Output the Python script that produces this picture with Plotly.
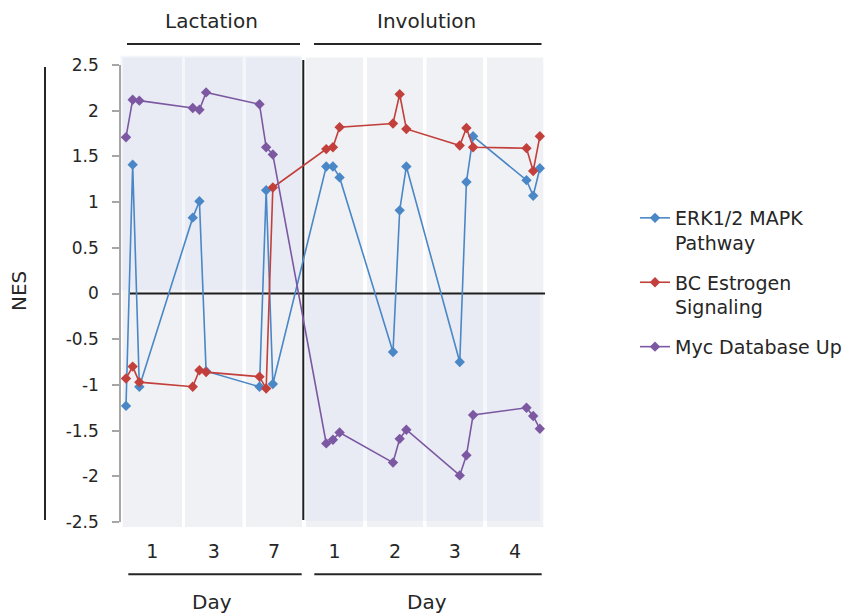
import plotly.graph_objects as go

# ---------------- data ----------------
phases = ["Lactation", "Involution"]
day_labels = ["1", "3", "7", "1", "2", "3", "4"]
replicates = 3

erk = [-1.23, 1.41, -1.02, 0.83, 1.01, -0.85, -1.02, 1.13, -0.99,
       1.39, 1.39, 1.27, -0.64, 0.91, 1.39, -0.75, 1.22, 1.72, 1.24, 1.07, 1.37]
bc = [-0.93, -0.80, -0.97, -1.02, -0.84, -0.86, -0.91, -1.04, 1.16,
      1.58, 1.60, 1.82, 1.86, 2.18, 1.80, 1.62, 1.81, 1.60, 1.59, 1.34, 1.72]
myc = [1.71, 2.12, 2.11, 2.03, 2.01, 2.20, 2.07, 1.60, 1.52,
       -1.64, -1.60, -1.52, -1.85, -1.59, -1.49, -1.99, -1.77, -1.33, -1.25, -1.34, -1.48]

series_names = ["ERK1/2 MAPK<br>Pathway", "BC Estrogen<br>Signaling", "Myc Database Up"]
y_ticks = [2.5, 2, 1.5, 1, 0.5, 0, -0.5, -1, -1.5, -2, -2.5]
y_tick_text = ["2.5", "2", "1.5", "1", "0.5", "0", "-0.5", "-1", "-1.5", "-2", "-2.5"]

# ---------------- geometry / style ----------------
W, H = 866, 616
# plot area in page pixels
PL, PR, PT, PB = 121, 545, 65, 522
L, T = PL, PT
PW, PH = PR - PL, PB - PT
R, B = W - L - PW, H - T - PH
px_per_unit = 6.675
x_first_px = 126.0

def xd(px):  # pixel -> x data
    return (px - x_first_px) / px_per_unit

def xp(px):  # pixel -> paper x
    return (px - PL) / PW

def yp(py):  # pixel -> paper y
    return (PB - py) / PH

x_pos = [10 * g + r for g in range(len(day_labels)) for r in range(replicates)]

col_px = [(122.7, 182.0), (185.0, 242.5), (246.0, 302.0), (306.0, 363.0),
          (367.0, 423.0), (426.5, 483.0), (487.0, 543.3)]
col_centers = [xd((a + b) / 2) for a, b in col_px]

colors = ["#4A87C6", "#C23F3B", "#7C58A2"]
FONT = "DejaVu Sans, Liberation Sans, Arial, sans-serif"
TXT = "#262626"

fig = go.Figure()
for i, (name, vals, c) in enumerate(zip(series_names, [erk, bc, myc], colors)):
    fig.add_trace(go.Scatter(
        x=x_pos, y=vals, name=name, mode="lines+markers", legendgroup=f"g{i}",
        line=dict(color=c, width=1.6),
        marker=dict(symbol="diamond", size=8, color=c),
    ))

shapes = []
for a, b in col_px:
    shapes.append(dict(type="rect", xref="paper", yref="paper",
                       x0=xp(a), x1=xp(b), y0=yp(527), y1=yp(57.5),
                       fillcolor="#F0F1F4", line=dict(width=0), layer="below"))
# overlays
shapes.append(dict(type="rect", xref="paper", yref="paper",
                   x0=xp(120.5), x1=xp(300.7), y0=yp(290), y1=yp(55.7),
                   fillcolor="rgba(208,221,240,0.25)", line=dict(width=0), layer="below"))
shapes.append(dict(type="rect", xref="paper", yref="paper",
                   x0=xp(305), x1=xp(540), y0=yp(295), y1=yp(521),
                   fillcolor="rgba(208,221,240,0.25)", line=dict(width=0), layer="below"))
# zero line and phase divider
shapes.append(dict(type="line", xref="paper", yref="y", x0=xp(130), x1=xp(545),
                   y0=0, y1=0, line=dict(color="#1E1E1E", width=2), layer="below"))
shapes.append(dict(type="line", xref="paper", yref="paper", x0=xp(303.3), x1=xp(303.3),
                   y0=yp(60), y1=yp(520), line=dict(color="#1E1E1E", width=2), layer="below"))
# bracket lines top/bottom
for (a, b) in [(127, 300), (314, 541.5)]:
    shapes.append(dict(type="line", xref="paper", yref="paper", x0=xp(a), x1=xp(b),
                       y0=yp(44), y1=yp(44), line=dict(color="#262626", width=2)))
for (a, b) in [(128.3, 301.7), (314.3, 541.7)]:
    shapes.append(dict(type="line", xref="paper", yref="paper", x0=xp(a), x1=xp(b),
                       y0=yp(574.3), y1=yp(574.3), line=dict(color="#262626", width=2)))
# NES bar
shapes.append(dict(type="line", xref="paper", yref="paper", x0=xp(45), x1=xp(45),
                   y0=yp(67), y1=yp(520), line=dict(color="#262626", width=2)))

annotations = []
for txt, cx in zip(phases, [211.5, 426.0]):
    annotations.append(dict(text=txt, xref="paper", yref="paper", x=xp(cx), y=yp(21),
                            xanchor="center", yanchor="middle", showarrow=False,
                            font=dict(size=20, color=TXT, family=FONT)))
for cx in [211.7, 426.7]:
    annotations.append(dict(text="Day", xref="paper", yref="paper", x=xp(cx), y=yp(602),
                            xanchor="center", yanchor="middle", showarrow=False,
                            font=dict(size=20, color=TXT, family=FONT)))
annotations.append(dict(text="NES", xref="paper", yref="paper", x=xp(19), y=yp(291),
                        xanchor="center", yanchor="middle", showarrow=False, textangle=-90,
                        font=dict(size=20, color=TXT, family=FONT)))

fig.update_layout(
    width=W, height=H,
    margin=dict(l=L, r=R, t=T, b=B, pad=0),
    paper_bgcolor="white", plot_bgcolor="rgba(0,0,0,0)",
    font=dict(family=FONT, color=TXT),
    shapes=shapes, annotations=annotations,
    showlegend=True,
    legend=dict(x=xp(635), y=yp(199), xanchor="left", yanchor="top",
                font=dict(size=19, color=TXT, family=FONT), valign="top",
                bgcolor="rgba(0,0,0,0)", tracegroupgap=12),
    xaxis=dict(range=[xd(PL), xd(PR)], showgrid=False, zeroline=False,
               showline=False, ticks="", tickmode="array",
               tickvals=col_centers, ticktext=day_labels,
               tickfont=dict(size=19, color=TXT, family=FONT),
               ticklabelstandoff=16),
    yaxis=dict(range=[-2.5, 2.5], showgrid=False, zeroline=False,
               showline=True, linecolor="#A6A6A6", linewidth=1.5,
               ticks="outside", ticklen=7, tickcolor="#A6A6A6", tickwidth=1.5,
               tickmode="array", tickvals=y_ticks, ticktext=y_tick_text,
               tickfont=dict(size=17, color=TXT, family=FONT),
               ticklabelstandoff=10),
)

fig.write_html(
    "out.html",
    config={"displayModeBar": False},
    post_script="document.body.style.margin='0';document.body.style.overflow='hidden';",
)
